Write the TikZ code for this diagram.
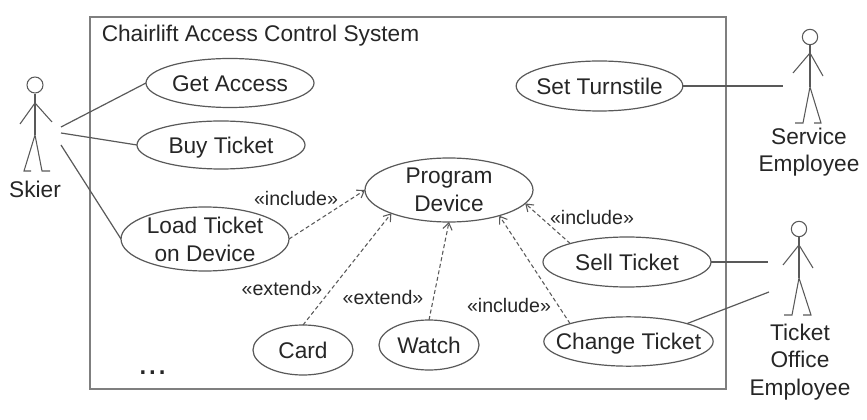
\documentclass[tikz,border=0pt]{standalone}
\usepackage{fontspec}
\setmainfont{Liberation Sans}
\usetikzlibrary{shapes.geometric,arrows.meta}
\definecolor{txt}{HTML}{262626}
\definecolor{ln}{HTML}{595959}
\definecolor{frm}{HTML}{7F7F7F}
\tikzset{
  usecase/.style={ellipse,draw=ln,line width=0.9pt,fill=white,inner sep=-45pt,outer sep=0pt,text=txt,align=center,font=\fontsize{17pt}{21pt}\selectfont},
  oneline/.style={text height=12.2pt,text depth=0pt},
  assoc/.style={draw=ln,line width=0.9pt},
  dep/.style={draw=ln,line width=0.8pt,dash pattern=on 3pt off 2pt,-{Straight Barb[length=5pt,width=7pt]}},
  stereo/.style={text=txt,inner sep=0pt,font=\fontsize{14.7pt}{17pt}\selectfont},
  lbl/.style={text=txt,inner sep=0pt,align=center,font=\fontsize{17pt}{20.7pt}\selectfont},
  stick/.style={draw=ln,line width=0.8pt}
}
\begin{document}
\begin{tikzpicture}[x=0.75pt,y=-0.75pt]
\useasboundingbox (0,0) rectangle (867,420);
\node[draw=frm,line width=1.1pt,inner sep=0pt,outer sep=0pt,minimum width=477pt,minimum height=279pt] (frame) at (408,203) {};
\node[lbl,anchor=base west] (title) at (101.5,42) {Chairlift Access Control System};

\node[usecase,oneline,minimum width=126pt,minimum height=36.75pt] (get) at (230,83) {Get Access};
\node[usecase,oneline,minimum width=126pt,minimum height=36pt] (buy) at (221,145) {Buy Ticket};
\node[usecase,minimum width=126pt,minimum height=48pt] (load) at (205,239) {Load Ticket\\on Device};
\node[usecase,minimum width=126pt,minimum height=48pt] (prog) at (449,190) {Program\\Device};
\node[usecase,oneline,minimum width=75pt,minimum height=37.5pt] (card) at (303,350) {Card};
\node[usecase,oneline,minimum width=75pt,minimum height=37.5pt] (watch) at (429,345) {Watch};
\node[usecase,oneline,minimum width=125pt,minimum height=37.5pt] (set) at (599.5,86) {Set Turnstile};
\node[usecase,oneline,minimum width=126pt,minimum height=37.5pt] (sell) at (627,262) {Sell Ticket};
\node[usecase,oneline,minimum width=127pt,minimum height=37pt] (change) at (628.5,341.5) {Change Ticket};

\node[stereo] (i1) at (296,198) {«include»};
\node[stereo] (e1) at (282,288) {«extend»};
\node[stereo] (e2) at (383,297) {«extend»};
\node[stereo] (i2) at (509,305) {«include»};
\node[stereo] (i3) at (592,217) {«include»};
\node[lbl,anchor=base,font=\fontsize{26pt}{30pt}\selectfont] (dots) at (152.5,374) {...};

% Skier
\node[circle,stick,inner sep=0pt,minimum size=12pt] (h1) at (35,85) {};
\coordinate (s1) at (35,103); \coordinate (w1) at (35,135);
\draw[stick] (h1.south) -- (w1);
\draw[stick] (20,124) -- (s1) -- (52,122);
\draw[stick] (31,171) -- (24,171) -- (w1) -- (42,171) -- (50,171);
\node[lbl] (skier) at (35,189) {Skier};
% Service
\node[circle,stick,inner sep=0pt,minimum size=11.5pt] (h2) at (810,37) {};
\coordinate (s2) at (810,53); \coordinate (w2) at (810,87);
\draw[stick] (h2.south) -- (w2);
\draw[stick] (793,73) -- (s2) -- (823,76);
\draw[stick] (795,123) -- (803,123) -- (w2) -- (821,123) -- (814,123);
\node[lbl] (service) at (809,152) {Service\\Employee};
% Ticket office
\node[circle,stick,inner sep=0pt,minimum size=11.5pt] (h3) at (799,229) {};
\coordinate (s3) at (799,245); \coordinate (w3) at (799,278);
\draw[stick] (h3.south) -- (w3);
\draw[stick] (783,265) -- (s3) -- (813,268);
\draw[stick] (784,315) -- (792,315) -- (w3) -- (811,315) -- (803,315);
\node[lbl] (office) at (800,362) {Ticket\\Office\\Employee};

% free ends
\coordinate (sk1) at (61,127);
\coordinate (sk2) at (61,133);
\coordinate (sk3) at (61,145);
\coordinate (se1) at (783,86);
\coordinate (of1) at (768,262);
\coordinate (of2) at (769,292);

\draw[assoc] (sk1) -- (get.west);
\draw[assoc] (sk2) -- (buy.west);
\draw[assoc] (sk3) -- (load.west);
\draw[assoc] (set.east) -- (se1);
\draw[assoc] (sell.east) -- (of1);
\draw[assoc] (change.17) -- (of2);

\draw[dep] (load.east) -- (prog.west);
\draw[dep] (card.north) -- (prog.202);
\draw[dep] (watch.north) -- (prog.south);
\draw[dep] (sell.162) -- (prog.-10);
\draw[dep] (change.163) -- (prog.-27);
\end{tikzpicture}
\end{document}
